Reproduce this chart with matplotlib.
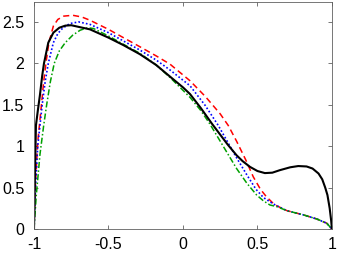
import matplotlib

matplotlib.use("Agg")
import matplotlib.pyplot as plt

plt.rcParams["font.family"] = ["Liberation Sans", "DejaVu Sans"]

# values
black_x = [-1.0, -0.993, -0.987, -0.975, -0.96, -0.945, -0.933, -0.904, -0.87, -0.83, -0.79,
           -0.75, -0.70, -0.624, -0.5, -0.4, -0.289, -0.18, -0.087, 0.0, 0.047, 0.12,
           0.195, 0.237, 0.30, 0.36, 0.40, 0.45, 0.50, 0.55, 0.60, 0.65, 0.72, 0.774,
           0.83, 0.87, 0.91, 0.935, 0.955, 0.97, 0.985, 0.995, 1.0]
black_y = [0.0, 0.70, 1.25, 1.42, 1.62, 1.85, 2.00, 2.25, 2.37, 2.43, 2.455,
           2.46, 2.44, 2.41, 2.31, 2.22, 2.11, 1.98, 1.84, 1.71, 1.63, 1.46,
           1.27, 1.17, 1.02, 0.89, 0.82, 0.75, 0.70, 0.675, 0.68, 0.71, 0.745, 0.76,
           0.755, 0.73, 0.67, 0.60, 0.50, 0.41, 0.25, 0.10, 0.0]

red_x = [-1.0, -0.99, -0.975, -0.95, -0.935, -0.92, -0.90, -0.87, -0.84, -0.80, -0.74,
         -0.68, -0.624, -0.5, -0.4, -0.289, -0.18, -0.087, 0.047, 0.15, 0.25, 0.304,
         0.36, 0.42, 0.472, 0.52, 0.56, 0.60, 0.63, 0.70, 0.81, 0.90, 0.965, 1.0]
red_y = [0.0, 0.55, 1.05, 1.50, 1.78, 2.00, 2.25, 2.45, 2.53, 2.57, 2.58,
         2.56, 2.52, 2.41, 2.31, 2.20, 2.09, 1.99, 1.79, 1.60, 1.39, 1.25,
         1.06, 0.84, 0.63, 0.48, 0.39, 0.32, 0.28, 0.22, 0.17, 0.12, 0.07, 0.0]

blue_x = [-1.0, -0.99, -0.975, -0.945, -0.925, -0.904, -0.87, -0.84, -0.81, -0.76, -0.70,
          -0.624, -0.5, -0.4, -0.289, -0.18, -0.087, 0.047, 0.15, 0.237, 0.30, 0.36,
          0.43, 0.49, 0.54, 0.60, 0.63, 0.70, 0.81, 0.90, 0.965, 1.0]
blue_y = [0.0, 0.50, 1.00, 1.50, 1.78, 2.00, 2.25, 2.36, 2.42, 2.48, 2.50,
          2.47, 2.37, 2.27, 2.16, 2.04, 1.92, 1.73, 1.49, 1.25, 1.05, 0.86,
          0.65, 0.48, 0.38, 0.31, 0.28, 0.22, 0.17, 0.12, 0.07, 0.0]

green_x = [-1.0, -0.985, -0.96, -0.935, -0.915, -0.89, -0.864, -0.83, -0.79, -0.74, -0.69,
           -0.64, -0.60, -0.5, -0.4, -0.289, -0.18, -0.087, 0.047, 0.12, 0.18, 0.27,
           0.36, 0.43, 0.495, 0.54, 0.584, 0.63, 0.70, 0.81, 0.90, 0.965, 1.0]
green_y = [0.0, 0.40, 0.90, 1.25, 1.50, 1.78, 2.00, 2.15, 2.25, 2.34, 2.40,
           2.43, 2.42, 2.33, 2.23, 2.12, 1.98, 1.83, 1.59, 1.43, 1.27, 1.00,
           0.73, 0.55, 0.41, 0.34, 0.29, 0.27, 0.22, 0.17, 0.12, 0.07, 0.0]

x_ticks = [-1, -0.5, 0, 0.5, 1]
x_tick_labels = ["-1", "-0.5", "0", "0.5", "1"]
y_ticks = [0, 0.5, 1, 1.5, 2, 2.5]
y_tick_labels = ["0", "0.5", "1", "1.5", "2", "2.5"]

fig = plt.figure(figsize=(3.38, 2.54), dpi=100)
ax = fig.add_axes([0.1006, 0.0984, 0.8814, 0.8936])

ax.plot(red_x, red_y, color="#ff0000", linestyle=(0, (4, 2.5)), linewidth=1.1)
ax.plot(blue_x, blue_y, color="#0000ff", linestyle=(0, (1, 1.3)), linewidth=1.2)
ax.plot(green_x, green_y, color="#00a000", linestyle=(0, (4, 1.5, 1, 1.5)), linewidth=1.1)
ax.plot(black_x, black_y, color="black", linewidth=1.5)

ax.set_xlim(-1, 1)
ax.set_ylim(0, 2.74)
ax.set_xticks(x_ticks)
ax.set_xticklabels(x_tick_labels)
ax.set_yticks(y_ticks)
ax.set_yticklabels(y_tick_labels)
ax.tick_params(direction="in", length=3, width=0.6, color="#606060",
               top=True, right=True, labelsize=11.5)
ax.tick_params(axis="y", pad=7)
ax.tick_params(axis="x", pad=6)
for spine in ax.spines.values():
    spine.set_color("#606060")
    spine.set_linewidth(0.6)

fig.savefig("out.png", dpi=100)
